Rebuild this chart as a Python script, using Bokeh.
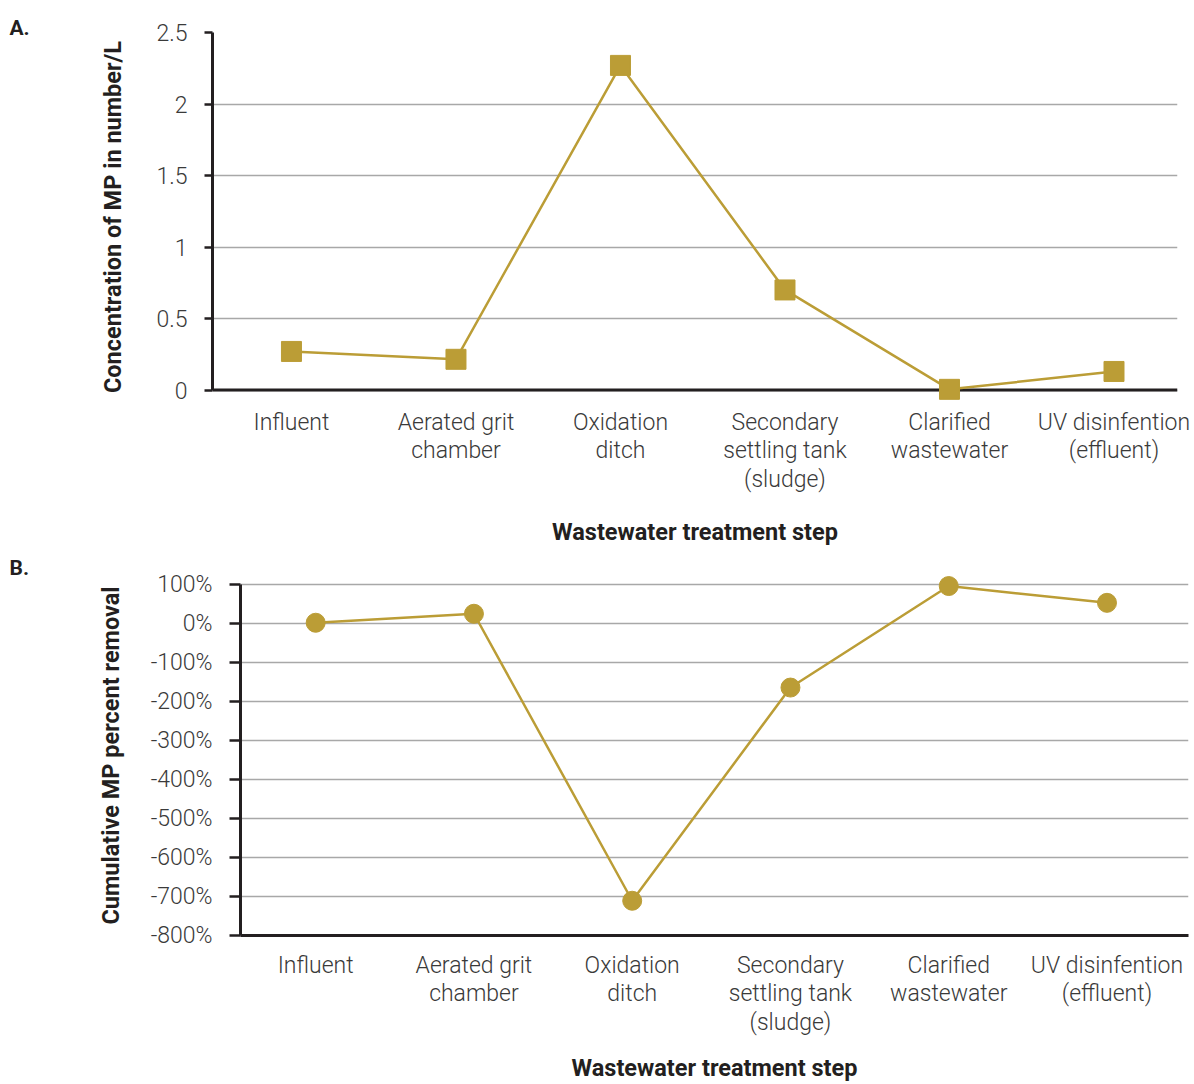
from bokeh.plotting import figure
from bokeh.models import Range1d, FixedTicker, Span
from bokeh.embed import file_html
from bokeh.resources import INLINE

# ---- data ----
steps = ["Influent", "Aerated grit\nchamber", "Oxidation\nditch",
         "Secondary\nsettling tank\n(sludge)", "Clarified\nwastewater",
         "UV disinfention\n(effluent)"]
concentration = [0.27, 0.215, 2.27, 0.70, 0.005, 0.13]          # number/L
removal_pct = [1, 24, -711, -165, 95, 52]                         # %
conc_ticks = [0, 0.5, 1, 1.5, 2, 2.5]
conc_tick_labels = ["0", "0.5", "1", "1.5", "2", "2.5"]
removal_ticks = [100, 0, -100, -200, -300, -400, -500, -600, -700, -800]
removal_tick_labels = ["100%", "0%", "-100%", "-200%", "-300%", "-400%",
                       "-500%", "-600%", "-700%", "-800%"]
x_title = "Wastewater treatment step"
y_title_a = "Concentration of MP in number/L"
y_title_b = "Cumulative MP percent removal"

pos = [i + 0.5 for i in range(len(steps))]

GOLD = "#BB9D36"
GRID = "#A8A8A8"
AXIS = "#231F20"
TICK_TXT = "#3A3A3A"
FONT = "Roboto"
LIGHT = "Roboto Light"
FS = "23px"
TFS = "23.5px"


def style(p, yticks, ylabels, ytitle, tick_out, panel, x_std, xt_std, yt_std,
          title_off, title_std):
    p.outline_line_color = None
    p.xgrid.grid_line_color = None
    p.ygrid.grid_line_color = GRID
    p.ygrid.grid_line_width = 1.5
    p.ygrid.ticker = FixedTicker(ticks=yticks)

    xa = p.xaxis[0]
    xa.ticker = FixedTicker(ticks=pos)
    xa.major_label_overrides = {pv: s for pv, s in zip(pos, steps)}
    xa.major_tick_line_color = None
    xa.minor_tick_line_color = None
    xa.axis_line_color = AXIS
    xa.axis_line_width = 3
    xa.major_label_text_font = LIGHT
    xa.major_label_text_font_size = FS
    xa.major_label_text_color = TICK_TXT
    xa.major_label_text_line_height = 1.06
    xa.major_label_standoff = x_std
    xa.axis_label = x_title
    xa.axis_label_text_font = FONT
    xa.axis_label_text_font_style = "bold"
    xa.axis_label_text_font_size = TFS
    xa.axis_label_text_color = AXIS
    xa.axis_label_standoff = xt_std

    ya = p.yaxis[0]
    ya.ticker = FixedTicker(ticks=yticks)
    ya.major_label_overrides = {t: l for t, l in zip(yticks, ylabels)}
    ya.minor_tick_line_color = None
    ya.major_tick_in = 0
    ya.major_tick_out = tick_out
    ya.major_tick_line_width = 2.5
    ya.major_tick_line_color = AXIS
    ya.axis_line_color = AXIS
    ya.axis_line_width = 3
    ya.major_label_text_font = LIGHT
    ya.major_label_text_font_size = FS
    ya.major_label_text_color = TICK_TXT
    ya.major_label_standoff = 17
    ya.axis_label = ytitle
    ya.axis_label_text_font = FONT
    ya.axis_label_text_font_style = "bold"
    ya.axis_label_text_font_size = TFS
    ya.axis_label_text_color = AXIS
    ya.axis_label_standoff = yt_std

    p.title.text = panel
    p.title.align = "left"
    p.title.offset = title_off
    p.title.standoff = title_std
    p.title.text_font = FONT
    p.title.text_font_style = "bold"
    p.title.text_font_size = "21px"
    p.title.text_color = AXIS


# ---- panel A ----
p1 = figure(width=1194, height=550, output_backend="svg", toolbar_location=None,
            x_range=Range1d(0.02, 5.886), y_range=Range1d(-0.08, 2.5),
            min_border_left=212, min_border_right=17, min_border_top=32,
            min_border_bottom=149)
style(p1, conc_ticks, conc_tick_labels, y_title_a, 8, "A.", 1, 22, 26, -203, -14)
p1.yaxis[0].bounds = (0, 2.5)
p1.xaxis[0].axis_line_color = None
p1.add_layout(Span(location=0, dimension="width", line_color=AXIS,
                   line_width=3, level="underlay"))
p1.line(pos, concentration, line_color=GOLD, line_width=2.5)
p1.scatter(pos, concentration, marker="square", size=20, fill_color=GOLD,
           line_color=GOLD)

# ---- panel B ----
p2 = figure(width=1194, height=534, output_backend="svg", toolbar_location=None,
            x_range=Range1d(0.025, 6.015), y_range=Range1d(-800, 122),
            min_border_left=240, min_border_right=6, min_border_top=25,
            min_border_bottom=147)
style(p2, removal_ticks, removal_tick_labels, y_title_b, 11, "B.", 10, 15, 23, -231, -8)
p2.yaxis[0].bounds = (-800, 100)
p2.line(pos, removal_pct, line_color=GOLD, line_width=2.5)
p2.scatter(pos, removal_pct, marker="circle", size=19, fill_color=GOLD,
           line_color=GOLD)

open("out.html", "w").write(file_html([p1, p2], INLINE))
